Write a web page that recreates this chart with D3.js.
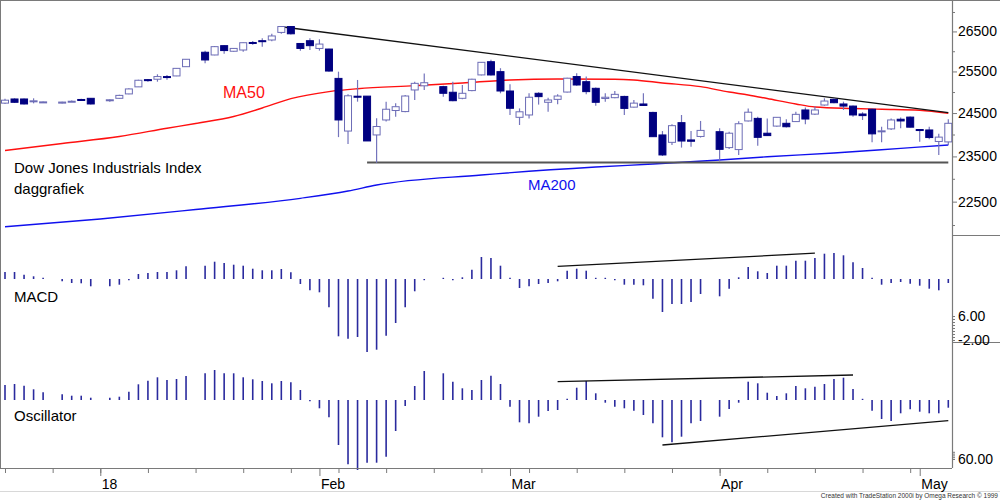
<!DOCTYPE html>
<html><head><meta charset="utf-8">
<script src="https://cdn.jsdelivr.net/npm/d3@7"></script>
<style>body{margin:0;background:#fff}svg{display:block;font-family:"Liberation Sans",Arial,sans-serif}</style>
</head><body><svg id="c" width="1000" height="500"></svg>
<script>
// ---- calendar (weekday slots, holidays have null data) ----
const firstDay = new Date(2017, 11, 18), lastDay = new Date(2018, 4, 5);

// ---- OHLC (DJIA, daily) ----
const openP = [24735,24834,24834,24780,24760,null,24735,24770,24822,24850,null,24800,24850,24955,25125,25300,25310,25375,25390,25617,null,25975,25907,26140,26000,26031,26220,26265,26283,26475,26625,26195,26265,26070,26055,25330,24080,24900,24902,23990,24338,24560,24535,25050,25150,null,25130,24995,24850,25035,25415,25740,25495,25025,24400,24455,24970,24755,24825,25000,25375,25250,25090,24845,24865,24895,24640,24715,24515,23990,23820,24275,23875,23955,null,24065,23700,23655,24315,24375,24030,24195,24260,24300,24573,24475,24690,24825,24715,24665,24478,24590,24075,24130,24355,24405,24115,24105,23840,23830];
const highP = [24840,24850,24845,24850,24775,null,24770,24795,24840,24860,null,24830,24935,25090,25295,25315,25430,25415,25580,25805,null,26010,26130,26150,26080,26220,26260,26325,26440,26630,26640,26210,26325,26300,26060,25495,24950,25292,24903,24380,24770,24730,24930,25250,25450,null,25150,25250,25170,25320,25730,25790,25580,25190,24610,24970,24995,24865,24945,25345,25455,25375,25110,24970,25025,24910,24810,24970,24530,24080,24235,24455,24080,24315,null,24145,24065,24305,24610,24415,24375,24410,24355,24530,24630,24655,24850,24860,24770,24680,24520,24610,24180,24375,24395,24420,24125,24180,24015,24355];
const lowP = [24715,24740,24700,24730,24750,null,24725,24760,24795,24700,null,24770,24840,24950,25120,25250,25250,25300,25385,25610,null,25700,25900,25940,25990,25990,26160,26115,26253,26440,26420,26015,26030,26015,25490,23940,23780,24770,23850,23360,24300,24415,24520,24810,25050,null,24890,24780,24830,25020,25405,25400,24970,24455,24220,24375,24700,24530,24710,24990,25150,24945,24675,24765,24850,24455,24630,24675,23940,23510,23760,23700,23720,23930,null,23385,23670,23533,24300,23740,23970,24180,24165,24290,24240,24455,24675,24735,24573,24415,24338,23820,23820,24105,24145,24165,23835,23890,23533,23760];
const closeP = [24805,24755,24715,24790,24765,null,24760,24780,24803,24715,null,24815,24920,25075,25285,25283,25375,25369,25576,25800,null,25783,26115,26017,26071,26214,26210,26245,26385,26625,26440,26070,26140,26180,25510,24338,24910,24895,23852,24185,24590,24650,24905,25210,25225,null,24970,24793,24970,25310,25725,25414,25025,24613,24530,24875,24890,24810,24905,25335,25170,25010,24755,24875,24945,24610,24735,24680,23950,23533,24205,23850,23845,24095,null,23660,24030,24250,24520,23935,23975,24400,24180,24470,24360,24573,24785,24745,24665,24455,24440,24015,24085,24338,24315,24170,24100,23930,23940,24260];

// ---- moving averages (read at selected slots) ----
const ma50Slot = [0,6,12,17,20,24,27,30,34,37,43,48,53,58,64,66,69,73,76,78,80,83,85,89,92,96,99];
const ma50Val  = [23635,23795,23955,24145,24256,24420,24620,24841,25010,25080,25154,25220,25292,25316,25311,25292,25220,25130,25000,24930,24845,24715,24643,24608,24590,24566,24495];
const ma200Slot = [0,10,20,31,36,39,50,62,68,75,80,87,94,99];
const ma200Val  = [21964,22127,22330,22572,22731,22862,23083,23261,23329,23418,23493,23576,23683,23759];

// ---- MACD histogram & oscillator ----
const macdHist = [0.70,0.70,0.43,0.27,0.10,null,-0.22,-0.40,-0.43,-0.73,null,-0.73,-0.57,-0.13,0.50,0.60,0.70,0.70,0.87,1.27,null,1.33,1.73,1.60,1.43,1.33,1.03,0.87,0.87,1.00,0.67,-0.50,-1.13,-1.33,-2.83,-5.73,-5.97,-5.80,-7.30,-7.07,-5.67,-4.40,-2.83,-1.23,-0.07,null,0.05,-0.07,0.17,0.93,2.20,2.10,1.33,0.05,-0.90,-0.73,-0.50,-0.40,-0.23,0.83,1.03,0.83,0.10,0.05,-0.07,-0.57,-0.57,-0.63,-1.97,-3.30,-2.50,-2.50,-2.30,-1.50,null,-1.73,-0.97,0.17,1.20,0.77,0.60,1.33,1.33,1.83,1.83,2.10,2.53,2.60,2.37,1.67,1.10,0.05,-0.57,-0.40,-0.30,-0.47,-0.67,-0.97,-1.13,-0.40];
const oscHist = [15,16,14.3,10.7,7.7,null,5.7,4.3,4.3,2.3,null,2.3,3.3,8.3,15.7,19.3,22.7,20,21,24,null,26.7,30,26.7,26.7,22.7,20.7,19,16.7,19,17.7,10,-0.7,-8.3,-17.3,-45,-64.3,-70,-62.7,-62.7,-56.7,-31,-6,14,29,null,26.7,18.3,11.7,10,20,24.3,16,-6.7,-22.3,-23.3,-16.7,-11,-10,1,12.3,19,6.7,-2.7,-6.7,-8.3,-10.7,-15,-23.3,-37.3,-42.3,-36.7,-23.3,-21,null,-16.7,-9,-2.7,18.3,16.7,7.3,4,6.7,14,11.7,13.3,16,21,22.3,11,1,-10.7,-19,-21,-13.3,-9.3,-11.7,-13.3,-13.3,-7.7];

// ---- trend lines (slot, value) ----
const priceResist = [[29,26620],[99,24510]];
const priceSupport = [[38,23362],[99,23362]];
const macdTrend = [[58,1.26],[85,2.58]];
const oscTrendUp = [[58,18.3],[89,25]];
const oscTrendDown = [[69,-45],[99,-20.7]];

// ---- axis ticks ----
const priceTicks = [22500,23500,24500,25500,26500];
const priceMinor = [22000,23000,24000,25000,26000,27000];
const macdTickVals = [-2,-1,0,1,2,3,4,5,6];
const macdTickLabels = {"-2":"-2.00","6":"6.00"};
const oscTickVals = [60,62,64,66,68];
const oscTickLabels = {"60":"60.00"};
const monthTickDates = ["2018-01-01","2018-02-01","2018-03-01","2018-04-02","2018-05-01"];
const monthTickLabels = ["18","Feb","Mar","Apr","May"];

// =========================================================
const fmt = d3.timeFormat("%Y-%m-%d");
const dates = d3.timeDay.range(firstDay, lastDay).filter(d => d.getDay() % 6 !== 0).map(fmt);
const svg = d3.select("#c");
const AX = 952, P1 = [0,235], P2 = [235,342], P3 = [342,468];

const x = d3.scalePoint().domain(dates).range([5, 948.3]);
const yP = d3.scaleLog().domain([21790, 27313]).range([P1[1], P1[0]]);
const yM = d3.scaleLinear().domain([-8, 4]).range([359, 239]);
const yO = d3.scaleLinear().domain([-68, 58]).range([468, 342]);
const yMlab = d3.scaleLinear().domain([-2, 6]).range([340, 316]);
const yOlab = d3.scaleLinear().domain([60, 70]).range([459, 450]);

const gray = "#7a7a7a";
// frame
svg.append("line").attr("x1",0.5).attr("x2",0.5).attr("y1",0).attr("y2",468).attr("stroke",gray);
svg.append("line").attr("x1",0).attr("x2",1000).attr("y1",0.5).attr("y2",0.5).attr("stroke",gray);
svg.append("line").attr("x1",0).attr("x2",1000).attr("y1",491.5).attr("y2",491.5).attr("stroke","#d8d8d8");

svg.append("defs").append("clipPath").attr("id","cp1").append("rect").attr("x",0).attr("y",0).attr("width",AX).attr("height",P1[1]);

const g1 = svg.append("g").attr("clip-path","url(#cp1)");

// MAs
const lineP = d3.line().x(d => x(dates[d[0]])).y(d => yP(d[1])).curve(d3.curveMonotoneX);
g1.append("path").attr("d", lineP(ma200Slot.map((s,i)=>[s,ma200Val[i]]))).attr("fill","none").attr("stroke","#1010ee").attr("stroke-width",1.4);
g1.append("path").attr("d", lineP(ma50Slot.map((s,i)=>[s,ma50Val[i]]))).attr("fill","none").attr("stroke","#ff1010").attr("stroke-width",1.4);

// trend lines
const tl = d3.line().x(d => x(dates[d[0]])).y(d => yP(d[1]));
g1.append("path").attr("d", tl(priceSupport)).attr("stroke","#555").attr("stroke-width",2).attr("fill","none");
g1.append("path").attr("d", tl(priceResist)).attr("stroke","#111").attr("stroke-width",1.3).attr("fill","none");

// candles
const idx = d3.range(dates.length).filter(i => openP[i] != null);
const cg = g1.append("g");
cg.selectAll("line.w").data(idx).join("line").attr("class","w")
  .attr("x1", i => x(dates[i])).attr("x2", i => x(dates[i]))
  .attr("y1", i => yP(highP[i])).attr("y2", i => yP(lowP[i]))
  .attr("stroke","#7474bc").attr("stroke-width",1.2);
cg.selectAll("rect").data(idx).join("rect")
  .attr("x", i => x(dates[i]) - 3.5).attr("width", 7)
  .attr("y", i => Math.min(yP(openP[i]), yP(closeP[i])))
  .attr("height", i => Math.max(1, Math.abs(yP(openP[i]) - yP(closeP[i]))))
  .attr("fill", i => closeP[i] < openP[i] ? "#000080" : "#fff")
  .attr("stroke", i => closeP[i] < openP[i] ? "#000080" : "#6c6cb6")
  .attr("stroke-width", 1);

// histograms
function hist(arr, ys, col) {
  const ii = d3.range(arr.length).filter(i => arr[i] != null);
  svg.append("g").selectAll("line").data(ii).join("line")
    .attr("x1", i => x(dates[i])).attr("x2", i => x(dates[i]))
    .attr("y1", ys(0))
    .attr("y2", i => { const d = ys(arr[i]) - ys(0); return ys(0) + (Math.abs(d) < 1.2 ? (d < 0 ? -1.2 : 1.2) : d); })
    .attr("stroke", col).attr("stroke-width", 1.6);
}
hist(macdHist, yM, "#2a2a9e");
hist(oscHist, yO, "#2a2a9e");

const tlM = d3.line().x(d => x(dates[d[0]])).y(d => yM(d[1]));
svg.append("path").attr("d", tlM(macdTrend)).attr("stroke","#111").attr("stroke-width",1.3).attr("fill","none");
const tlO = d3.line().x(d => x(dates[d[0]])).y(d => yO(d[1]));
svg.append("path").attr("d", tlO(oscTrendUp)).attr("stroke","#111").attr("stroke-width",1.3).attr("fill","none");
svg.append("path").attr("d", tlO(oscTrendDown)).attr("stroke","#111").attr("stroke-width",1.3).attr("fill","none");

// right axes
svg.append("line").attr("x1",AX+0.5).attr("x2",AX+0.5).attr("y1",0).attr("y2",468).attr("stroke",gray).attr("stroke-width",1.2);
[P2[0], P3[0]].forEach(yy => svg.append("line").attr("x1",AX).attr("x2",1000).attr("y1",yy+0.5).attr("y2",yy+0.5).attr("stroke",gray));

const axP = svg.append("g").attr("transform",`translate(${AX},0)`)
  .call(d3.axisRight(yP).tickValues(priceTicks).tickFormat(d3.format("d")).tickSize(5).tickPadding(1));
const axPm = svg.append("g").attr("transform",`translate(${AX},0)`)
  .call(d3.axisRight(yP).tickValues(priceMinor).tickFormat("").tickSize(3));
const axM = svg.append("g").attr("transform",`translate(${AX},0)`)
  .call(d3.axisRight(yMlab).tickValues(macdTickVals).tickFormat(d => macdTickLabels[d] || "").tickSize(3).tickPadding(3));
const axO = svg.append("g").attr("transform",`translate(${AX},0)`)
  .call(d3.axisRight(yOlab).tickValues(oscTickVals).tickFormat(d => oscTickLabels[d] || "").tickSize(3).tickPadding(3));
[axP, axPm, axM, axO].forEach(a => {
  a.select(".domain").remove();
  a.selectAll("line").attr("stroke", gray);
  a.selectAll("text").attr("fill","#000").style("font-size","14px").style("font-family","'Liberation Sans',Arial,sans-serif");
});

// bottom axis
svg.append("line").attr("x1",0).attr("x2",AX).attr("y1",468.5).attr("y2",468.5).attr("stroke",gray).attr("stroke-width",1.2);
const weekly = dates.filter((d,i) => i % 5 === 0);
const axW = svg.append("g").attr("transform","translate(0,468)")
  .call(d3.axisBottom(x).tickValues(weekly).tickFormat("").tickSize(5));
const axMo = svg.append("g").attr("transform","translate(0,468)")
  .call(d3.axisBottom(x).tickValues(monthTickDates).tickFormat((d,i) => monthTickLabels[i]).tickSize(8).tickPadding(3));
[axW, axMo].forEach(a => { a.select(".domain").remove(); a.selectAll("line").attr("stroke", gray); });
axMo.selectAll("text").attr("text-anchor","start").attr("dx", 1).attr("fill","#000")
  .style("font-size","14px").style("font-family","'Liberation Sans',Arial,sans-serif");

// labels
const lab = (t, xx, yy, size, col) => svg.append("text").attr("x",xx).attr("y",yy).text(t)
  .attr("fill",col).style("font-size",size+"px");
lab("MA50", 223, 98, 16, "#ff1010");
lab("MA200", 528, 190, 15, "#1010ee");
lab("Dow Jones Industrials Index", 14, 173, 15, "#000");
lab("daggrafiek", 14, 194, 15, "#000");
lab("MACD", 14, 302, 15, "#000");
lab("Oscillator", 14, 420.5, 15, "#000");
svg.append("text").attr("x",998).attr("y",498).attr("text-anchor","end").style("font-size","6.5px").attr("fill","#333")
  .text("Created with TradeStation 2000i by Omega Research © 1999");
</script></body></html>
